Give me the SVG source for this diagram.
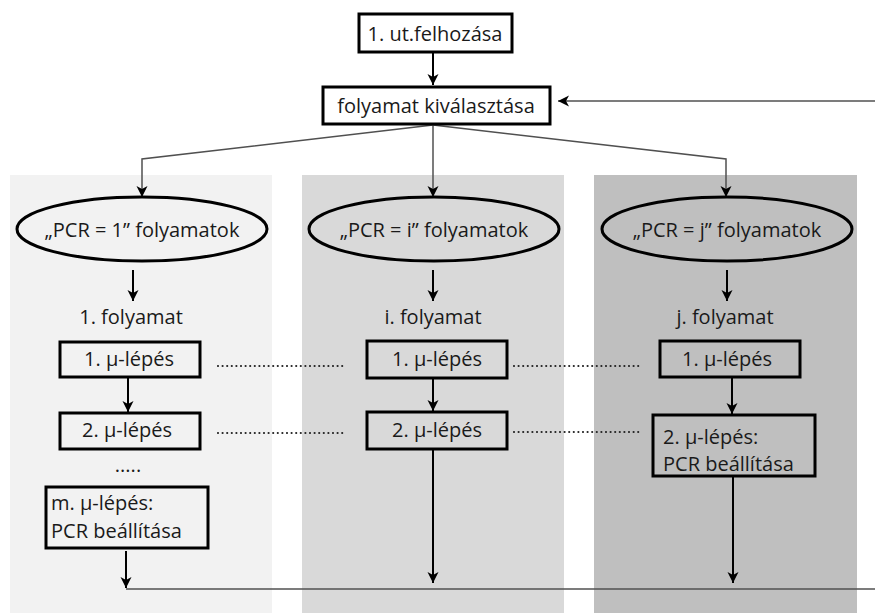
<svg xmlns="http://www.w3.org/2000/svg" width="875" height="613" viewBox="0 0 875 613">
<defs>
<style>
text{font-family:"Open Sans","Liberation Sans",sans-serif;font-size:20px;fill:#1a1a1a}
.c{text-anchor:middle}
.box{fill:none;stroke:#000;stroke-width:3}
.wbox{fill:#fff;stroke:#000;stroke-width:3}
.ell{fill:none;stroke:#000;stroke-width:3}
.ar{fill:none;stroke:#000;stroke-width:2;marker-end:url(#ah)}
.thin{fill:none;stroke:#505050;stroke-width:1.5}
.thinar{fill:none;stroke:#505050;stroke-width:1.5;marker-end:url(#ah)}
.dot{stroke:#222;stroke-width:2.2;stroke-linecap:round;stroke-dasharray:0 4.6}
</style>
<marker id="ah" markerUnits="userSpaceOnUse" markerWidth="12" markerHeight="12" viewBox="0 0 12 12" refX="11" refY="6" orient="auto">
<path d="M0,0.5 L11,6 L0,11.5 L3,6 z" fill="#000"/>
</marker>
</defs>
<rect width="875" height="613" fill="#fff"/>
<g id="columns">
<rect x="10" y="175" width="262" height="438" fill="#f2f2f2"/>
<rect x="302" y="175" width="262" height="438" fill="#d9d9d9"/>
<rect x="594" y="175" width="263" height="438" fill="#bfbfbf"/>
</g>
<g id="connectors">
<line class="ar" x1="433" y1="53" x2="433" y2="85"/>
<line class="thinar" x1="875" y1="101" x2="558" y2="101"/>
<polyline class="thinar" points="433,125 142,159 142,197"/>
<line class="thinar" x1="433" y1="125" x2="433" y2="197"/>
<polyline class="thinar" points="433,125 726,159 726,197"/>
<line class="ar" x1="133" y1="270" x2="133" y2="301"/>
<line class="ar" x1="433" y1="270" x2="433" y2="301"/>
<line class="ar" x1="727" y1="270" x2="727" y2="301"/>
<line class="ar" x1="128" y1="377" x2="128" y2="412"/>
<line class="ar" x1="126" y1="551" x2="126" y2="588"/>
<line class="ar" x1="433" y1="379" x2="433" y2="411"/>
<line class="ar" x1="433" y1="450" x2="433" y2="583"/>
<line class="ar" x1="732" y1="378" x2="732" y2="414"/>
<line class="ar" x1="733" y1="477" x2="733" y2="583"/>
<line class="thin" x1="126" y1="589" x2="875" y2="589"/>
<line class="dot" x1="218" y1="366" x2="346" y2="366"/>
<line class="dot" x1="218" y1="433" x2="346" y2="433"/>
<line class="dot" x1="514" y1="366" x2="642" y2="366"/>
<line class="dot" x1="514" y1="432" x2="642" y2="432"/>
</g>
<g id="n-felhozas">
<rect class="wbox" x="359" y="14" width="153" height="38"/>
<text class="c" x="435" y="41">1. ut.felhozása</text>
</g>
<g id="n-kivalasztas">
<rect class="wbox" x="323" y="87" width="227" height="37"/>
<text class="c" x="436" y="113">folyamat kiválasztása</text>
</g>
<g id="n-pcr1">
<ellipse class="ell" cx="142" cy="229" rx="125" ry="32"/>
<text class="c" x="142" y="237">„PCR = 1” folyamatok</text>
</g>
<g id="n-pcri">
<ellipse class="ell" cx="434" cy="229" rx="125" ry="32"/>
<text class="c" x="434" y="237">„PCR = i” folyamatok</text>
</g>
<g id="n-pcrj">
<ellipse class="ell" cx="727" cy="229" rx="125" ry="32"/>
<text class="c" x="727" y="237">„PCR = j” folyamatok</text>
</g>
<g id="n-fol1"><text class="c" x="131" y="324">1. folyamat</text></g>
<g id="n-foli"><text class="c" x="433" y="324">i. folyamat</text></g>
<g id="n-folj"><text class="c" x="725" y="324">j. folyamat</text></g>
<g id="n-l1">
<rect class="box" x="60" y="342" width="140" height="35"/>
<text class="c" x="129" y="366">1. μ-lépés</text>
</g>
<g id="n-l2">
<rect class="box" x="60" y="413" width="140" height="36"/>
<text class="c" x="127" y="437">2. μ-lépés</text>
</g>
<g id="n-ldots"><text class="c" x="128" y="472">.....</text></g>
<g id="n-lm">
<rect class="box" x="46" y="487" width="162" height="61"/>
<text x="51" y="510">m. μ-lépés:</text>
<text x="51" y="538">PCR beállítása</text>
</g>
<g id="n-m1">
<rect class="box" x="367" y="341" width="140" height="37"/>
<text class="c" x="437" y="366">1. μ-lépés</text>
</g>
<g id="n-m2">
<rect class="box" x="367" y="412" width="140" height="37"/>
<text class="c" x="437" y="437">2. μ-lépés</text>
</g>
<g id="n-r1">
<rect class="box" x="660" y="341" width="140" height="36"/>
<text class="c" x="727" y="366">1. μ-lépés</text>
</g>
<g id="n-r2">
<rect class="box" x="653" y="415" width="162" height="61"/>
<text x="663" y="444">2. μ-lépés:</text>
<text x="663" y="471">PCR beállítása</text>
</g>
</svg>
